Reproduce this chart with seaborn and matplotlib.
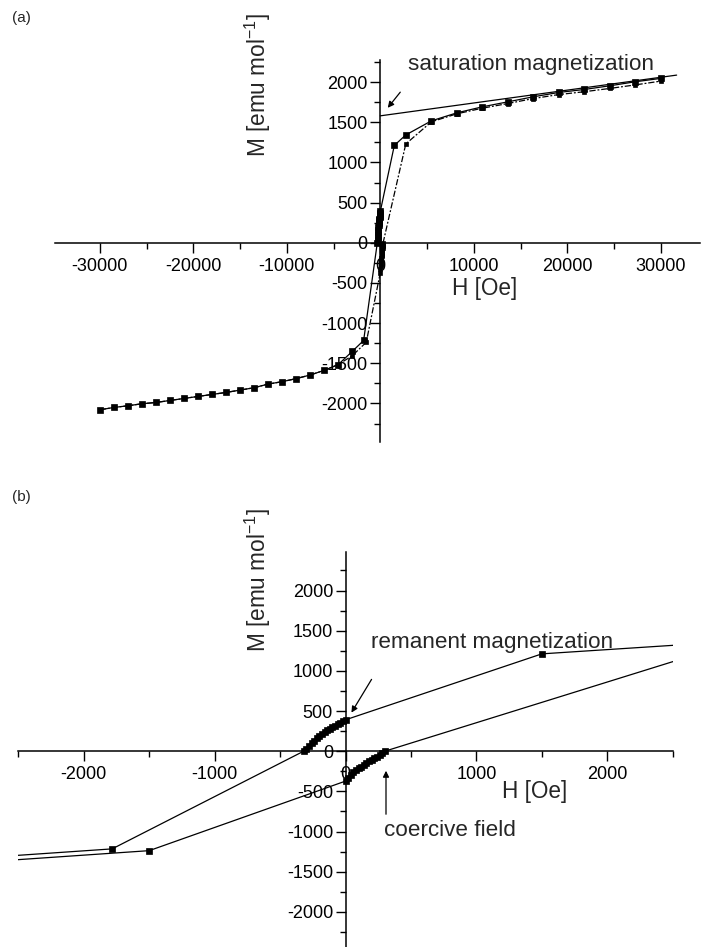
import matplotlib
matplotlib.use("Agg")
import matplotlib.pyplot as plt
import seaborn as sns
import pandas as pd
from matplotlib.ticker import MultipleLocator, FixedLocator

sns.set_theme(style="white")
plt.rcParams["font.family"] = ["Liberation Sans", "DejaVu Sans"]
plt.rcParams["axes.unicode_minus"] = False
plt.rcParams["mathtext.fontset"] = "custom"
plt.rcParams["mathtext.rm"] = "Liberation Sans"
plt.rcParams["mathtext.it"] = "Liberation Sans:italic"

# ---------------- data (H in Oe, M in emu/mol) ----------------
neg_H = [-30000, -28500, -27000, -25500, -24000, -22500, -21000, -19500, -18000,
         -16500, -15000, -13500, -12000, -10500, -9000, -7500, -6000, -4500]
neg_M = [-2079, -2050, -2029, -2004, -1988, -1963, -1938, -1913, -1888,
         -1863, -1834, -1804, -1759, -1729, -1691, -1646, -1588, -1516]

desc_hi_H = [30000, 27273, 24545, 21818, 19091, 16364, 13636, 10909, 8182, 5455, 2727, 1500]
desc_hi_M = [2046, 2004, 1954, 1908, 1871, 1817, 1754, 1692, 1617, 1517, 1342, 1212]
desc_core_H = [0, -20, -40, -60, -80, -100, -120, -140, -160, -180, -200, -220, -240, -260, -280, -300, -320]
desc_core_M = [391, 372, 353, 334, 315, 297, 279, 260, 241, 218, 192, 163, 132, 100, 67, 33, 0]
desc_lo_H = [-1783, -3000]
desc_lo_M = [-1216, -1352]

asc_lo_H = [-3000, -1500]
asc_lo_M = [-1406, -1238]
asc_core_H = [0, 20, 40, 60, 80, 100, 120, 140, 160, 180, 200, 220, 240, 260, 280, 300]
asc_core_M = [-372, -330, -292, -260, -233, -211, -191, -170, -149, -128, -107, -87, -66, -45, -24, 0]
asc_hi_H = [2727, 5455, 8182, 10909, 13636, 16364, 19091, 21818, 24545, 27273, 30000]
asc_hi_M = [1230, 1505, 1605, 1675, 1733, 1795, 1845, 1880, 1921, 1965, 2012]

sat_H = [0, 31700]
sat_M = [1580, 2087]

desc = pd.DataFrame({
    "H": desc_hi_H + desc_core_H + desc_lo_H + neg_H[::-1],
    "M": desc_hi_M + desc_core_M + desc_lo_M + neg_M[::-1],
})
asc = pd.DataFrame({
    "H": neg_H + asc_lo_H + asc_core_H + asc_hi_H,
    "M": neg_M + asc_lo_M + asc_core_M + asc_hi_M,
})
sat = pd.DataFrame({"H": sat_H, "M": sat_M})

W, Hpx = 701, 947
fig = plt.figure(figsize=(W / 100, Hpx / 100), dpi=100)


def px(x, y):
    return (x / W, 1 - y / Hpx)


def style_axes(ax, xmin, ymaj, ymin, xticks):
    for s in ["top", "right"]:
        ax.spines[s].set_visible(False)
    ax.spines["left"].set_position(("data", 0))
    ax.spines["bottom"].set_position(("data", 0))
    for s in ["left", "bottom"]:
        ax.spines[s].set_linewidth(1.1)
        ax.spines[s].set_color("black")
    ax.xaxis.set_major_locator(FixedLocator(xticks))
    ax.xaxis.set_minor_locator(MultipleLocator(xmin))
    ax.yaxis.set_major_locator(MultipleLocator(ymaj))
    ax.yaxis.set_minor_locator(MultipleLocator(ymin))
    ax.tick_params(axis="both", which="major", direction="out", length=7, width=1.0,
                   labelsize=13, color="black", labelcolor="black")
    ax.tick_params(axis="both", which="minor", direction="out", length=4, width=1.0, color="black")
    ax.tick_params(axis="x", which="both", bottom=True, top=False, pad=4)
    ax.tick_params(axis="y", which="both", left=True, right=False, pad=2)
    ax.set_xlabel("")
    ax.set_ylabel("")
    ax.grid(False)
    ax.set_facecolor("none")


# ---------------- panel (a) ----------------
axA = fig.add_axes([55 / W, (Hpx - 442) / Hpx, 645 / W, (442 - 59.6) / Hpx])
sns.lineplot(data=sat, x="H", y="M", ax=axA, sort=False, estimator=None,
             color="black", linewidth=0.9, zorder=3)
sns.lineplot(data=asc, x="H", y="M", ax=axA, sort=False, estimator=None,
             color="black", linewidth=0.9, linestyle=(0, (5, 1.5, 1.5, 1.5)),
             marker="s", markersize=2.8, markerfacecolor="black",
             markeredgecolor="black", markeredgewidth=0.5, zorder=3)
sns.lineplot(data=desc, x="H", y="M", ax=axA, sort=False, estimator=None,
             color="black", linewidth=0.9, marker="s", markersize=4.4,
             markerfacecolor="black", markeredgecolor="black", markeredgewidth=0.5, zorder=4)
axA.set_xlim(-34800, 34200)
axA.set_ylim(-2480, 2280)
style_axes(axA, 5000, 500, 250, [-30000, -20000, -10000, 0, 10000, 20000, 30000])

fig.text(*px(12, 18), "(a)", fontsize=11, ha="left", va="center")
fig.text(*px(258, 85), "M [emu mol$^{-1}$]", fontsize=16.3, rotation=90, ha="center", va="center")
fig.text(*px(485, 289), "H [Oe]", fontsize=16.3, ha="center", va="center")
fig.text(*px(408, 70), "saturation magnetization", fontsize=16.2, ha="left", va="baseline")
axA.annotate("", xy=(386, Hpx - 110), xytext=(402, Hpx - 90),
             xycoords="figure pixels", textcoords="figure pixels",
             arrowprops=dict(arrowstyle="-|>", lw=0.9, color="black", mutation_scale=9))

# ---------------- panel (b) ----------------
axB = fig.add_axes([18.3 / W, (Hpx - 947.2) / Hpx, (672.8 - 18.3) / W, (947.2 - 552) / Hpx])
sns.lineplot(data=asc, x="H", y="M", ax=axB, sort=False, estimator=None,
             color="black", linewidth=0.9, marker="s", markersize=4.0,
             markerfacecolor="black", markeredgecolor="black", markeredgewidth=0.5, zorder=3)
sns.lineplot(data=desc, x="H", y="M", ax=axB, sort=False, estimator=None,
             color="black", linewidth=0.9, marker="s", markersize=4.0,
             markerfacecolor="black", markeredgecolor="black", markeredgewidth=0.5, zorder=4)
axB.set_xlim(-2500, 2500)
axB.set_ylim(-2440, 2480)
style_axes(axB, 500, 500, 250, [-2000, -1000, 0, 1000, 2000])

fig.text(*px(12, 497), "(b)", fontsize=11, ha="left", va="center")
fig.text(*px(258, 580), "M [emu mol$^{-1}$]", fontsize=16.3, rotation=90, ha="center", va="center")
fig.text(*px(535, 791), "H [Oe]", fontsize=16.3, ha="center", va="center")
fig.text(*px(371, 648), "remanent magnetization", fontsize=16.2, ha="left", va="baseline")
fig.text(*px(384, 836), "coercive field", fontsize=16.2, ha="left", va="baseline")
axB.annotate("", xy=(350, Hpx - 715), xytext=(373, Hpx - 677),
             xycoords="figure pixels", textcoords="figure pixels",
             arrowprops=dict(arrowstyle="-|>", lw=0.9, color="black", mutation_scale=9))
axB.annotate("", xy=(386, Hpx - 768), xytext=(386, Hpx - 817),
             xycoords="figure pixels", textcoords="figure pixels",
             arrowprops=dict(arrowstyle="-|>", lw=0.9, color="black", mutation_scale=9))

fig.savefig("out.png", dpi=100, facecolor="white")
